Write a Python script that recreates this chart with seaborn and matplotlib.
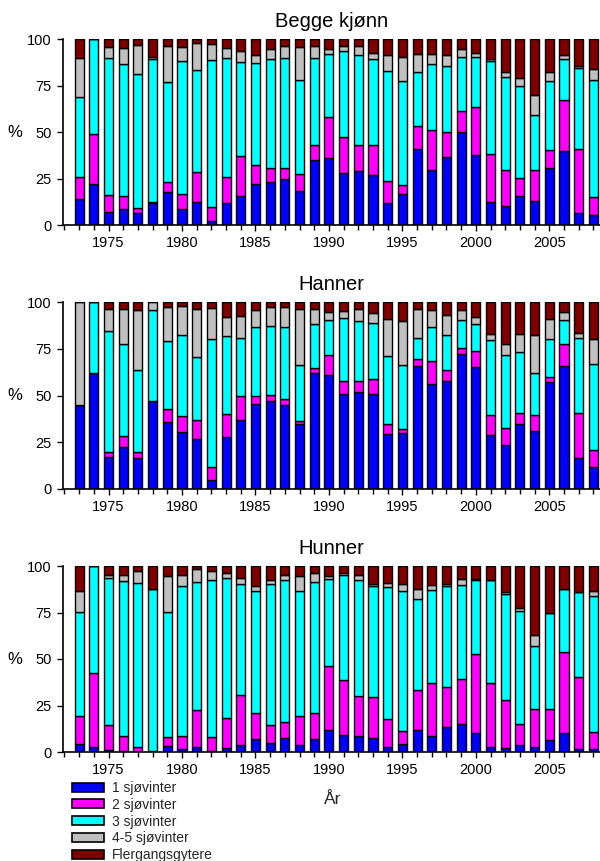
import matplotlib
matplotlib.use("Agg")
import matplotlib.pyplot as plt
import numpy as np
import pandas as pd
import seaborn as sns
from matplotlib.patches import Patch
from matplotlib.ticker import MultipleLocator

# Sea-age composition of the catch by year (per cent)
years = list(range(1973, 2009))
groups = ["1 sjøvinter", "2 sjøvinter", "3 sjøvinter", "4-5 sjøvinter", "Flergangsgytere"]
colors = ["#0000FF", "#FF00FF", "#00FFFF", "#C0C0C0", "#800000"]
panel_titles = ["Begge kjønn", "Hanner", "Hunner"]
y_ticks = [0, 25, 50, 75, 100]
x_ticks = [1975, 1980, 1985, 1990, 1995, 2000, 2005]

# Begge kjønn
begge_1sv = [14, 22, 7, 8.5, 6.5, 12, 17.5, 8.5, 12.5, 2, 12, 15.5, 22, 23, 24.5, 18.5, 35, 36,
             28, 29, 27, 12, 16.5, 41, 29.5, 36.5, 50, 37.5, 12.5, 10, 15.5, 13, 30.5, 40, 6.5, 5.5]
begge_2sv = [12, 27, 9, 7, 2.5, 0.5, 5.5, 8, 16, 7.5, 14, 21.5, 10, 7.5, 6, 9, 8, 22,
             19.5, 14, 16, 11.5, 5, 12, 21.5, 13.5, 11.5, 26, 25.5, 19.5, 10, 16.5, 10, 27, 34.5, 9.5]
begge_3sv = [43, 51, 74, 71, 72, 76.5, 54, 71.5, 55, 79, 64, 50.5, 55, 58.5, 59.5, 50.5, 47, 34,
             46, 48.5, 46, 59.5, 56, 29, 35.5, 35.5, 29, 27, 50, 50, 49.5, 29.5, 37, 22.5, 43.5, 63]
begge_45sv = [21, 0, 5.5, 8.5, 16, 1.5, 19, 7.5, 14.5, 9, 5, 6, 4.5, 5.5, 6.5, 17.5, 6.5, 2.5,
              2.5, 4.5, 3.5, 8.5, 13, 10, 5.5, 6, 4, 2, 1, 3, 4, 11, 5, 2, 1, 6]
begge_fler = [10, 0, 4.5, 5, 3, 9.5, 4, 4.5, 2, 2.5, 5, 6.5, 8.5, 5.5, 3.5, 4.5, 3.5, 5.5,
              4, 4, 7.5, 8.5, 9.5, 8, 8, 8.5, 5.5, 7.5, 11, 17.5, 21, 30, 17.5, 8.5, 14.5, 16]

# Hanner
hann_1sv = [45, 62, 17, 22.5, 16.5, 47, 36, 30.5, 27, 5, 28, 37, 45.5, 47, 45, 34.5, 62, 61,
            51, 52, 51, 29.5, 30, 66, 56, 57.5, 72, 65, 29, 23.5, 35, 31, 57, 66, 16.5, 12]
hann_2sv = [0, 0, 3, 6, 3.5, 0, 7, 8.5, 10, 7, 12, 12.5, 4.5, 3.5, 3, 2, 2.5, 10.5,
            7, 6, 8, 5, 2, 3.5, 12.5, 6, 3.5, 9, 10.5, 9, 5.5, 8.5, 3, 11.5, 24, 9]
hann_3sv = [0, 38, 64.5, 49, 43.5, 48.5, 36, 43.5, 33.5, 68, 42, 31, 36.5, 36.5, 38.5, 30, 23.5, 19,
            33.5, 32, 30, 36.5, 34.5, 11, 18, 19, 15, 14, 40, 39, 33, 22.5, 20, 13, 40, 46]
hann_45sv = [55, 0, 12, 18.5, 32, 4.5, 18.5, 15.5, 26, 17, 10, 12, 9, 10.5, 11, 29.5, 8.5, 4,
             3.5, 6.5, 5, 20, 23.5, 15.5, 9, 10.5, 5, 4, 3.5, 6, 9.5, 20.5, 11, 4, 3, 13]
hann_fler = [0, 0, 3.5, 4, 4.5, 0, 2.5, 2, 3.5, 3, 8, 7.5, 4.5, 2.5, 2.5, 4, 3.5, 5.5,
             5, 3.5, 6, 9, 10, 4, 4.5, 7, 4.5, 8, 17, 22.5, 17, 17.5, 9, 5.5, 16.5, 20]

# Hunner
hunn_1sv = [4.5, 2.5, 1, 0.5, 0.2, 0, 3, 1.5, 2.5, 0.3, 2, 3.5, 7, 5, 7.5, 4, 7, 12,
            9, 8.5, 7.5, 2.5, 4.5, 12, 8.5, 13.5, 15, 10, 2.5, 2, 3.5, 2.5, 6.5, 10, 1.5, 1.5]
hunn_2sv = [15, 40, 13.5, 8, 2.3, 0.5, 5, 7, 20, 7.6, 16.5, 27, 14, 9.5, 8.5, 15.5, 14, 34,
            29.5, 21.5, 22, 15, 7, 21.5, 28.5, 21.5, 24.5, 42.5, 34.5, 26, 11.5, 20.5, 16.5, 43.5, 39, 9.5]
hunn_3sv = [56, 57.5, 79, 83.5, 88.5, 87, 67.5, 81, 69, 84.5, 75, 60, 65.5, 76, 76.5, 67, 70.5, 47,
            56.5, 62.5, 60, 71, 75, 49, 50, 54, 50.5, 40, 55.5, 57, 61, 34, 51.5, 34, 45.5, 73]
hunn_45sv = [11, 0, 1.5, 3, 6.5, 0, 19, 5.5, 7, 5, 2.5, 3, 2.5, 2, 2.5, 8, 5, 1.5,
             1.5, 2.5, 1, 2.5, 4, 5, 3, 1.5, 3, 0.5, 0, 1, 1.5, 6, 0, 0, 0, 2.5]
hunn_fler = [13.5, 0, 5, 5, 2.5, 12.5, 5.5, 5, 1.5, 2.6, 4, 6.5, 11, 7.5, 5, 5.5, 3.5, 5.5,
             3.5, 5, 9.5, 9, 9.5, 12.5, 10, 9.5, 7, 7, 7.5, 14, 22.5, 37, 25.5, 12.5, 14, 13.5]

panels = [
    [begge_1sv, begge_2sv, begge_3sv, begge_45sv, begge_fler],
    [hann_1sv, hann_2sv, hann_3sv, hann_45sv, hann_fler],
    [hunn_1sv, hunn_2sv, hunn_3sv, hunn_45sv, hunn_fler],
]


def long_frame(series):
    return pd.concat(
        [pd.DataFrame({"År": years, "Gruppe": g, "Andel": v}) for g, v in zip(groups, series)],
        ignore_index=True,
    )


sns.set_style("ticks")
plt.rcParams["font.family"] = ["Liberation Sans", "DejaVu Sans"]

W, H = 600, 861
fig = plt.figure(figsize=(W / 100, H / 100), dpi=100)
palette = dict(zip(groups, colors))

# (pixel y of the 100 line, pixel y of the 0 line) for each panel
rows = [(39, 225), (302, 489), (566, 752)]
left_px = 63

for (top_px, bot_px), series, title in zip(rows, panels, panel_titles):
    ax = fig.add_axes([left_px / W, 1 - bot_px / H, (W - left_px) / W, (bot_px - top_px) / H])
    df = long_frame(series)
    # first hue level is stacked on top, so reverse the order
    sns.histplot(
        data=df, x="År", weights="Andel", hue="Gruppe", hue_order=groups[::-1],
        multiple="stack", discrete=True, shrink=0.62, palette=palette,
        edgecolor="black", linewidth=1.0, alpha=1, legend=False, ax=ax,
    )
    ax.set_xlim(1971.9, 2008.45)
    ax.set_ylim(0, 100)
    ax.set_yticks(y_ticks)
    ax.set_xticks(x_ticks)
    ax.xaxis.set_minor_locator(MultipleLocator(1))
    ax.tick_params(axis="both", which="major", labelsize=10.5, length=4.5, width=1,
                   color="black", labelcolor="black")
    ax.tick_params(axis="x", which="minor", length=3.5, width=1, color="black")
    ax.set_xlabel("")
    ax.set_ylabel("%", rotation=0, fontsize=12, va="center", ha="center", color="black")
    ax.yaxis.set_label_coords((15 - left_px) / (W - left_px), 0.5)
    ax.set_title(title, fontsize=14.5, pad=9, color="black")
    for side in ("top", "right"):
        ax.spines[side].set_visible(False)
    for side in ("left", "bottom"):
        ax.spines[side].set_color("black")
        ax.spines[side].set_linewidth(1.2)

fig.text(333 / W, 1 - 800 / H, "År", ha="center", va="center", fontsize=12.5)

handles = [Patch(facecolor=c, edgecolor="black", linewidth=1.2) for c in colors]
fig.legend(
    handles, groups, loc="upper left", bbox_to_anchor=(72 / W, 1 - 781 / H),
    frameon=False, fontsize=10, handlelength=2.3, handleheight=0.6,
    labelspacing=0.2, handletextpad=0.6, borderpad=0, borderaxespad=0,
)

fig.savefig("out.png", dpi=100)
